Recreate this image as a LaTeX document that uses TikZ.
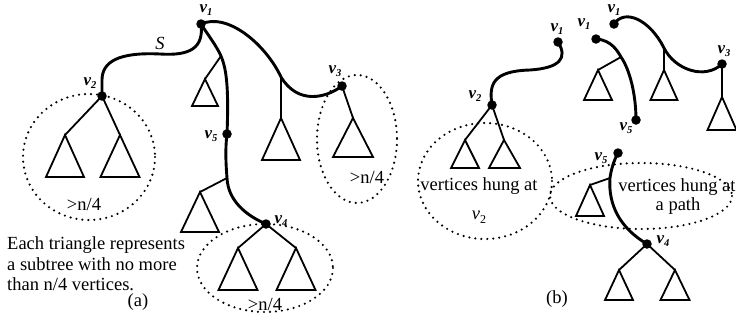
\documentclass[tikz,border=0pt]{standalone}
\usepackage{fontspec}
\setmainfont{Liberation Serif}
\begin{document}
\begin{tikzpicture}[x=1pt,y=-1pt,
  thickpath/.style={line width=2.9pt},
  treeline/.style={line width=1.8pt, line join=miter},
  dotv/.style={circle, fill=black, inner sep=0pt, minimum size=9.5pt},
  hull/.style={line width=2.4pt, dash pattern=on 0pt off 6pt, line cap=round},
  vlab/.style={inner sep=0pt, font=\fontsize{17}{17}\selectfont\bfseries\itshape},
  txt/.style={inner sep=0pt, font=\fontsize{18.5}{20.6}\selectfont}]
\useasboundingbox (0,0) rectangle (736,325);
\newcommand{\vl}[1]{v\raisebox{-3pt}{\fontsize{10.5}{10.5}\selectfont #1}}

% ---------------- (a) ----------------
\node[dotv] (a1) at (201,24) {};
\node[dotv] (a2) at (102,96) {};
\node[dotv] (a3) at (342,86) {};
\node[dotv] (a5) at (227,134) {};
\node[dotv] (a4) at (266,224) {};
\coordinate (ab15) at (221,56);
\coordinate (ab13) at (281,77);
\coordinate (ab54) at (227,178);

\draw[thickpath] (a1.center) .. controls (204,48) and (190,56) .. (160,54)
   .. controls (118,52) and (102,62) .. (102,80) -- (a2.center);
\draw[thickpath] (a1.center) .. controls (228,12) and (266,45) .. (ab13)
   .. controls (298,105) and (326,98) .. (a3.center);
\draw[thickpath] (a1.center) .. controls (208,35) and (216,45) .. (ab15)
   .. controls (226,68) and (229,85) .. (a5.center);
\draw[thickpath] (a5.center) .. controls (225,150) and (226,165) .. (ab54)
   .. controls (228,200) and (245,215) .. (a4.center);

\coordinate (at1) at (65,135);
\coordinate (at2) at (120,135);
\coordinate (at3) at (205,79);
\coordinate (at4) at (281,118);
\coordinate (at5) at (353,118);
\coordinate (at6) at (200,192);
\coordinate (at7) at (238,248);
\coordinate (at8) at (296,248);
\draw[treeline] (a2.center) -- (at1);
\draw[treeline] (a2.center) -- (at2);
\draw[treeline] (ab15) -- (at3);
\draw[treeline] (ab13) -- (at4);
\draw[treeline] (a3.center) -- (at5);
\draw[treeline] (ab54) -- (at6);
\draw[treeline] (a4.center) -- (at7);
\draw[treeline] (a4.center) -- (at8);
\draw[treeline] (at1) -- ++(-19,42) -- ++(38,0) -- cycle;
\draw[treeline] (at2) -- ++(-19.5,42) -- ++(39,0) -- cycle;
\draw[treeline] (at3) -- ++(-13,27) -- ++(26,0) -- cycle;
\draw[treeline] (at4) -- ++(-19,42) -- ++(38,0) -- cycle;
\draw[treeline] (at5) -- ++(-20,39) -- ++(40,0) -- cycle;
\draw[treeline] (at6) -- ++(-19,40) -- ++(38,0) -- cycle;
\draw[treeline] (at7) -- ++(-19.5,42) -- ++(39,0) -- cycle;
\draw[treeline] (at8) -- ++(-19.5,42) -- ++(39,0) -- cycle;

\draw[hull] (89,157) ellipse [x radius=66, y radius=63];
\draw[hull] (357,139) ellipse [x radius=40, y radius=64];
\draw[hull] (265,268) ellipse [x radius=68, y radius=44];

\node[vlab] (la1) at (206,10) {\vl{1}};
\node[vlab] (la2) at (90,83) {\vl{2}};
\node[vlab] (la3) at (335,71) {\vl{3}};
\node[vlab] (la5) at (211,136) {\vl{5}};
\node[vlab] (la4) at (281,221) {\vl{4}};
\node[txt, anchor=base, font=\fontsize{18.5}{20}\selectfont\itshape] (lS) at (160,49) {S};

\node[txt, anchor=base] (g1) at (84,210) {>n/4};
\node[txt, anchor=base] (g2) at (367,183) {>n/4};
\node[txt, anchor=base] (g3) at (265,310) {>n/4};
\node[txt, anchor=north west, align=left] (note) at (7,236.5)
  {Each triangle represents\\a subtree with no more\\than n/4 vertices.};
\node[txt, anchor=base] (capa) at (138,306) {(a)};

% ---------------- (b) ----------------
\node[dotv] (b1a) at (558,42) {};
\node[dotv] (b2) at (492,105) {};
\node[dotv] (b1b) at (596,39) {};
\node[dotv] (b5a) at (636,120) {};
\node[dotv] (b1c) at (614,24) {};
\node[dotv] (b3) at (722,64) {};
\node[dotv] (b5b) at (618,153) {};
\node[dotv] (b4) at (647,244) {};
\coordinate (bb15) at (621,57);
\coordinate (bb13) at (664,48);
\coordinate (bb54) at (610,178);

\draw[thickpath] (b1a.center) .. controls (568,58) and (560,68) .. (530,70)
   .. controls (492,71) and (489,85) .. (b2.center);
\draw[thickpath] (b1b.center) .. controls (612,40) and (618,52) .. (bb15)
   .. controls (630,70) and (636,95) .. (b5a.center);
\draw[thickpath] (b1c.center) .. controls (625,8) and (650,20) .. (bb13)
   .. controls (675,70) and (705,80) .. (b3.center);
\draw[thickpath] (b5b.center) .. controls (614,160) and (611,170) .. (bb54)
   .. controls (608,205) and (620,228) .. (b4.center);

\coordinate (bt1) at (465,140);
\coordinate (bt2) at (504,140);
\coordinate (bt3) at (598,70);
\coordinate (bt4) at (664,70);
\coordinate (bt5) at (722,97);
\coordinate (bt6) at (590,185);
\coordinate (bt7) at (619,270);
\coordinate (bt8) at (675,270);
\draw[treeline] (b2.center) -- (bt1);
\draw[treeline] (b2.center) -- (bt2);
\draw[treeline] (bb15) -- (bt3);
\draw[treeline] (bb13) -- (bt4);
\draw[treeline] (b3.center) -- (bt5);
\draw[treeline] (bb54) -- (bt6);
\draw[treeline] (b4.center) -- (bt7);
\draw[treeline] (b4.center) -- (bt8);
\draw[treeline] (bt1) -- ++(-14,28) -- ++(28,0) -- cycle;
\draw[treeline] (bt2) -- ++(-15,28) -- ++(31,0) -- cycle;
\draw[treeline] (bt3) -- ++(-14,30) -- ++(28,0) -- cycle;
\draw[treeline] (bt4) -- ++(-13.5,30) -- ++(27,0) -- cycle;
\draw[treeline] (bt5) -- ++(-14.5,33) -- ++(29,0) -- cycle;
\draw[treeline] (bt6) -- ++(-14,31) -- ++(28,0) -- cycle;
\draw[treeline] (bt7) -- ++(-14,30) -- ++(28,0) -- cycle;
\draw[treeline] (bt8) -- ++(-14.5,30) -- ++(29,0) -- cycle;

\draw[hull] (485,181) ellipse [x radius=67, y radius=58];
\draw[hull] (641,196) ellipse [x radius=91, y radius=33];

\node[vlab] (lb1a) at (557,29) {\vl{1}};
\node[vlab] (lb2) at (475,96) {\vl{2}};
\node[vlab] (lb1b) at (584,24) {\vl{1}};
\node[vlab] (lb5a) at (626,128) {\vl{5}};
\node[vlab] (lb1c) at (614,10) {\vl{1}};
\node[vlab] (lb3) at (724,51) {\vl{3}};
\node[vlab] (lb5b) at (601,158) {\vl{5}};
\node[vlab] (lb4) at (663,241) {\vl{4}};

\node[txt, anchor=base] (h1) at (479,190) {vertices hung at};
\node[txt, anchor=base] (h2) at (479,219) {\textit{v}\raisebox{-4pt}{\fontsize{12}{12}\selectfont 2}};
\node[txt, anchor=base] (h3) at (677,191) {vertices hung at};
\node[txt, anchor=base] (h4) at (678,210) {a path};
\node[txt, anchor=base] (capb) at (557,303) {(b)};
\end{tikzpicture}
\end{document}
